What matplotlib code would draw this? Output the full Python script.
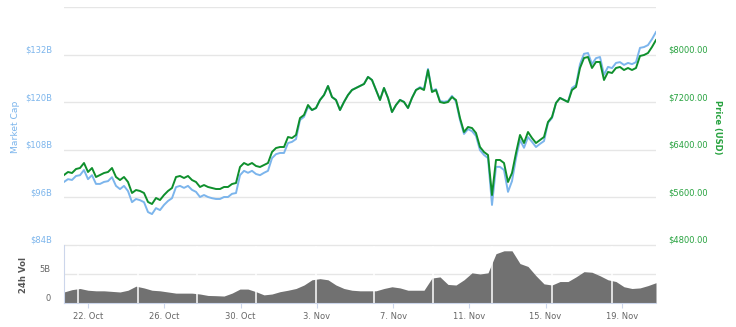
import numpy as np
import pandas as pd
import matplotlib
matplotlib.use("Agg")
import matplotlib.pyplot as plt
import matplotlib.dates as mdates

plt.rcParams['font.family'] = ['DejaVu Sans']

# ---------------- data ----------------
start = pd.Timestamp("2017-10-20 17:45")
end = pd.Timestamp("2017-11-20 19:00")

price_usd = [5976, 6027, 6010, 6077, 6094, 6178, 6027, 6094, 5943, 5976,
             6010, 6027, 6094, 5943, 5892, 5943, 5859, 5674, 5724, 5708,
             5674, 5523, 5489, 5590, 5556, 5640, 5708, 5758, 5943, 5960,
             5926, 5960, 5892, 5859, 5775, 5808, 5775, 5758, 5741, 5741,
             5775, 5775, 5825, 5842, 6111, 6178, 6145, 6178, 6128, 6111,
             6145, 6178, 6363, 6430, 6447, 6447, 6615, 6598, 6649, 6934,
             6985, 7153, 7069, 7103, 7237, 7321, 7472, 7287, 7237, 7069,
             7203, 7321, 7405, 7439, 7472, 7506, 7624, 7573, 7405, 7237,
             7439, 7271, 7035, 7153, 7237, 7203, 7103, 7271, 7405, 7439,
             7405, 7741, 7371, 7405, 7203, 7187, 7203, 7287, 7237, 6934,
             6699, 6783, 6766, 6682, 6447, 6363, 6313, 5640, 6229, 6229,
             6178, 5859, 6010, 6346, 6649, 6514, 6699, 6598, 6514, 6565,
             6615, 6867, 6951, 7187, 7271, 7237, 7203, 7405, 7455, 7775,
             7943, 7960, 7775, 7876, 7876, 7573, 7708, 7691, 7775, 7792,
             7741, 7775, 7741, 7775, 7977, 7993, 8027, 8128, 8245]

market_cap_b = [99.9, 100.6, 100.4, 101.4, 101.6, 102.9, 100.6, 101.6, 99.4, 99.4,
                99.9, 100.1, 101.1, 98.9, 98.1, 98.9, 97.6, 94.8, 95.6, 95.3,
                94.8, 92.3, 91.8, 93.3, 92.8, 94.1, 95.1, 95.8, 98.6, 98.9,
                98.4, 98.9, 97.9, 97.4, 96.1, 96.6, 96.1, 95.8, 95.6, 95.6,
                96.1, 96.1, 96.9, 97.1, 101.6, 102.7, 102.2, 102.7, 101.9, 101.6,
                102.2, 102.7, 105.9, 106.9, 107.2, 107.2, 109.7, 110.0, 110.7, 115.5,
                116.3, 118.8, 118.0, 118.5, 120.6, 121.8, 124.1, 121.3, 120.6, 118.0,
                120.1, 121.8, 123.1, 123.6, 124.1, 124.6, 126.4, 125.6, 123.1, 120.6,
                123.6, 121.1, 117.5, 119.3, 120.6, 120.1, 118.5, 121.1, 123.1, 123.8,
                123.3, 128.4, 122.8, 123.3, 120.3, 120.1, 120.3, 121.6, 120.1, 115.5,
                112.0, 113.2, 112.7, 111.5, 107.9, 106.7, 105.9, 94.1, 103.7, 103.7,
                102.9, 97.4, 100.1, 105.9, 110.5, 108.5, 111.2, 110.0, 108.7, 109.5,
                110.2, 114.8, 116.0, 119.8, 121.1, 120.6, 120.1, 123.6, 124.3, 129.6,
                132.2, 132.4, 129.6, 131.1, 131.4, 126.9, 128.9, 128.6, 129.9, 130.1,
                129.4, 129.9, 129.6, 130.1, 133.7, 133.9, 134.4, 135.9, 137.7]

volume_b = [1.9, 2.3, 2.5, 2.2, 2.1, 2.1, 2.0, 1.9, 2.2, 2.9,
            2.6, 2.2, 2.1, 1.9, 1.7, 1.7, 1.7, 1.55, 1.3, 1.26,
            1.2, 1.7, 2.4, 2.4, 1.95, 1.4, 1.55, 1.95, 2.2, 2.5,
            3.1, 4.0, 4.2, 4.0, 3.1, 2.5, 2.2, 2.1, 2.1, 2.1,
            2.5, 2.8, 2.6, 2.2, 2.2, 2.2, 4.3, 4.5, 3.2, 3.1,
            4.0, 5.2, 5.0, 5.2, 8.5, 9.0, 9.0, 6.8, 6.3, 4.7,
            3.3, 3.1, 3.7, 3.7, 4.5, 5.4, 5.3, 4.7, 4.0, 3.7,
            2.8, 2.5, 2.6, 3.0, 3.5]

volume_gaps = ["2017-10-21 11:30", "2017-10-24 15:00", "2017-10-27 17:00",
               "2017-10-30 19:30", "2017-11-02 23:00", "2017-11-06 00:00",
               "2017-11-09 02:00", "2017-11-12 04:30", "2017-11-15 08:00",
               "2017-11-18 11:30"]

tick_dates = ["2017-10-22", "2017-10-26", "2017-10-30", "2017-11-03",
              "2017-11-07", "2017-11-11", "2017-11-15", "2017-11-19"]
tick_labels = ["22. Oct", "26. Oct", "30. Oct", "3. Nov",
               "7. Nov", "11. Nov", "15. Nov", "19. Nov"]

cap_ticks = [84, 96, 108, 120, 132]
cap_labels = ["$84B", "$96B", "$108B", "$120B", "$132B"]
price_ticks = [4800, 5600, 6400, 7200, 8000]
price_labels = ["$4800.00", "$5600.00", "$6400.00", "$7200.00", "$8000.00"]
vol_ticks = [0, 5]
vol_labels = ["0", "5B"]

# ---------------- style ----------------
BLUE = "#7cb5ec"
GREEN = "#0e8f2c"
GREEN_TXT = "#27a23f"
GRID = "#e6e6e6"
AXIS = "#ccd6eb"
GRAY_TXT = "#666666"
VOL = "#717171"

W, H = 736, 327
fig = plt.figure(figsize=(W / 100, H / 100), dpi=100)

def fx(px):
    return px / W

def fy(py):
    return 1 - py / H

L, R = 64, 656
ax = fig.add_axes([fx(L), fy(245), fx(R - L), fy(7) - fy(245)])
axv = fig.add_axes([fx(L), fy(303), fx(R - L), fy(245) - fy(303)], sharex=ax)

t_main = pd.date_range(start, end, periods=len(price_usd))
t_vol = pd.date_range(start, end, periods=len(volume_b))

# main axes: market cap (left)
ax.plot(t_main, market_cap_b, color=BLUE, lw=1.4, zorder=3, solid_joinstyle='round')
ax.set_ylim(84, 144)
ax.set_yticks(cap_ticks + [144])
ax.set_yticklabels(cap_labels + [""])
ax.grid(axis='y', color=GRID, lw=1.0)
ax.set_axisbelow(True)
for s in ax.spines.values():
    s.set_visible(False)
ax.tick_params(axis='y', length=0, pad=8.5, labelsize=6, labelcolor=BLUE)
for lab in ax.get_yticklabels():
    lab.set_verticalalignment('bottom')
ax.tick_params(axis='x', which='both', bottom=False, labelbottom=False)

# price (right)
ax2 = ax.twinx()
ax2.plot(t_main, price_usd, color=GREEN, lw=1.4, zorder=4, solid_joinstyle='round')
ax2.set_ylim(4800, 8800)
ax2.set_yticks(price_ticks)
ax2.set_yticklabels(price_labels)
for s in ax2.spines.values():
    s.set_visible(False)
ax2.tick_params(axis='y', length=0, pad=8.5, labelsize=6, labelcolor=GREEN_TXT)
for lab in ax2.get_yticklabels():
    lab.set_verticalalignment('bottom')
ax2.tick_params(axis='x', which='both', bottom=False, labelbottom=False)

# volume panel
axv.fill_between(t_vol, 0, volume_b, color=VOL, lw=0, zorder=2)
axv.vlines(pd.to_datetime(volume_gaps), 0, 9.8, colors='white', lw=1.1, zorder=3)
axv.set_ylim(0, 10)
axv.set_yticks(vol_ticks + [10])
axv.set_yticklabels(vol_labels + [""])
axv.grid(axis='y', color=GRID, lw=1.0)
axv.set_axisbelow(True)
for k in ['top', 'right']:
    axv.spines[k].set_visible(False)
axv.spines['left'].set_color(AXIS)
axv.spines['bottom'].set_color(AXIS)
axv.spines['left'].set_linewidth(0.8)
axv.spines['bottom'].set_linewidth(0.8)
axv.tick_params(axis='y', length=0, pad=9.5, labelsize=6, labelcolor=GRAY_TXT)
for lab in axv.get_yticklabels():
    lab.set_verticalalignment('bottom')

axv.set_xticks(pd.to_datetime(tick_dates))
axv.set_xticklabels(tick_labels)
axv.tick_params(axis='x', length=3.5, width=0.8, color=AXIS, pad=3.0,
                labelsize=6, labelcolor=GRAY_TXT)
axv.set_xlim(start, end)

# axis titles
fig.text(fx(15), fy(127), "Market Cap", rotation=90, ha='center', va='center',
         color=BLUE, fontsize=6.6)
fig.text(fx(718), fy(127), "Price (USD)", rotation=270, ha='center', va='center',
         color=GREEN_TXT, fontsize=6, fontweight='bold')
fig.text(fx(24), fy(275), "24h Vol", rotation=90, ha='center', va='center',
         color="#555555", fontsize=6.1, fontweight='bold')

fig.savefig("out.png", dpi=100)
